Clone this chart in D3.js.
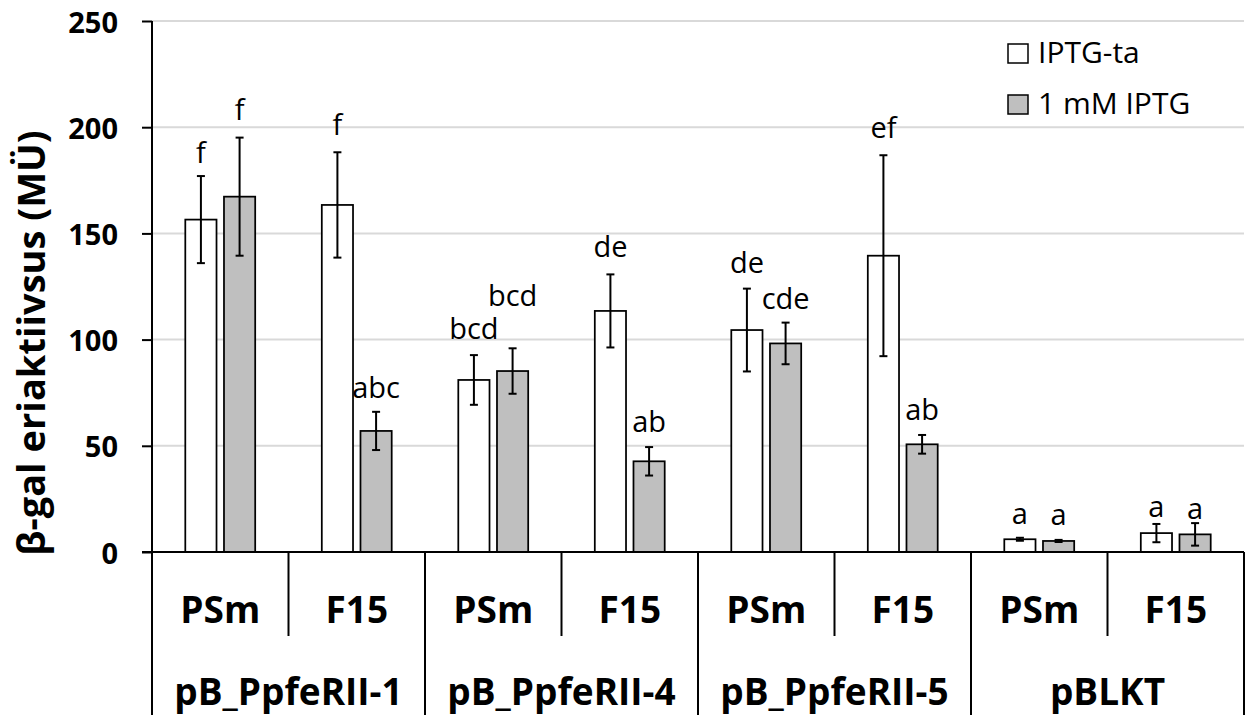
<!DOCTYPE html>
<html>
<head>
<meta charset="utf-8">
<script src="https://cdn.jsdelivr.net/npm/d3@7"></script>
<style>
  html, body { margin: 0; padding: 0; background: #fff; }
  svg { display: block; font-family: "Open Sans", "DejaVu Sans", sans-serif; }
</style>
</head>
<body>
<svg id="chart" width="1246" height="715"></svg>
<script>
// Constructs (outer group) and promoters (inner category)
const groups = ["pB_PpfeRII-1", "pB_PpfeRII-4", "pB_PpfeRII-5", "pBLKT"];
const promoters = ["PSm", "F15"];
const seriesNames = ["IPTG-ta", "1 mM IPTG"];

// β-gal activity (Miller units), one value per group × promoter
const noIptg = [156.5, 163.4, 81.0, 113.5, 104.5, 139.5, 6.0, 8.9];
const noIptgErr = [20.5, 24.8, 11.7, 17.2, 19.5, 47.3, 0.7, 4.3];
const withIptg = [167.3, 57.0, 85.2, 42.7, 98.2, 50.7, 5.2, 8.3];
const withIptgErr = [27.8, 9.0, 10.7, 6.7, 9.8, 4.4, 0.5, 5.3];

// Significance letters
const noIptgLetters = ["f", "f", "bcd", "de", "de", "ef", "a", "a"];
const withIptgLetters = ["f", "abc", "bcd", "ab", "cde", "ab", "a", "a"];

const yTicks = [0, 50, 100, 150, 200, 250];

// ---- layout ----
const svg = d3.select("#chart");
const plotLeft = 152, plotRight = 1244, plotTop = 21, plotBase = 552, plotBottom = 715;

const y = d3.scaleLinear().domain([0, 250]).range([plotBase, plotTop]);

const cats = [];
groups.forEach(g => promoters.forEach(p => cats.push(g + "|" + p)));
const x = d3.scaleBand().domain(cats).range([plotLeft, plotRight]).padding(0);
const xg = d3.scaleBand().domain(groups).range([plotLeft, plotRight]).padding(0);
const inner = d3.scaleBand().domain([0, 1])
  .range([33.3, x.bandwidth() - 33.3]).paddingInner(0.193).paddingOuter(0);

const fills = ["#ffffff", "#bfbfbf"];

// gridlines
svg.append("g").selectAll("line").data(yTicks.filter(d => d > 0)).join("line")
  .attr("x1", plotLeft).attr("x2", plotRight)
  .attr("y1", d => y(d)).attr("y2", d => y(d))
  .attr("stroke", "#d9d9d9").attr("stroke-width", 2);

// y axis
const yAxis = d3.axisLeft(y).tickValues(yTicks).tickSize(10).tickPadding(24);
const yg = svg.append("g").attr("transform", `translate(${plotLeft},0)`).call(yAxis);
yg.select(".domain").remove();
yg.selectAll(".tick line").attr("stroke", "#000").attr("stroke-width", 2);
yg.selectAll(".tick text")
  .attr("font-family", "Open Sans").attr("font-weight", 700)
  .attr("font-size", 29).attr("fill", "#000").attr("dy", "0.38em");

// y axis title
svg.append("text")
  .attr("transform", "translate(45,343) rotate(-90)")
  .attr("text-anchor", "middle")
  .attr("font-weight", 700).attr("font-size", 38).attr("fill", "#000")
  .text("β-gal eriaktiivsus (MÜ)");

// bars
const series = [
  { vals: noIptg, err: noIptgErr, letters: noIptgLetters },
  { vals: withIptg, err: withIptgErr, letters: withIptgLetters }
];
// letter lift above the error bar cap (px)
const labelLift = [
  [13, 17, 16, 17, 16, 17, 14, 7],
  [18, 14, 42, 15, 14, 15, 15, 4]
];

series.forEach((s, si) => {
  const g = svg.append("g");
  const data = cats.map((c, i) => ({ c, i, v: s.vals[i], e: s.err[i], l: s.letters[i] }));
  const bx = d => x(d.c) + inner(si);
  const cx = d => bx(d) + inner.bandwidth() / 2;

  g.selectAll("rect").data(data).join("rect")
    .attr("x", bx).attr("width", inner.bandwidth())
    .attr("y", d => y(d.v)).attr("height", d => y(0) - y(d.v))
    .attr("fill", fills[si]).attr("stroke", "#000").attr("stroke-width", 1.75);

  const eb = g.selectAll("g.err").data(data).join("g").attr("class", "err");
  eb.append("line")
    .attr("x1", cx).attr("x2", cx)
    .attr("y1", d => y(d.v + d.e)).attr("y2", d => y(d.v - d.e))
    .attr("stroke", "#000").attr("stroke-width", 2);
  [1, -1].forEach(sign => {
    eb.append("line")
      .attr("x1", d => cx(d) - 4).attr("x2", d => cx(d) + 4)
      .attr("y1", d => y(d.v + sign * d.e)).attr("y2", d => y(d.v + sign * d.e))
      .attr("stroke", "#000").attr("stroke-width", 2);
  });

  g.selectAll("text").data(data).join("text")
    .attr("x", cx)
    .attr("y", d => y(d.v + d.e) - labelLift[si][d.i])
    .attr("text-anchor", "middle")
    .attr("font-size", 29).attr("fill", "#000")
    .text(d => d.l);
});

// baseline / category axis
svg.append("line").attr("x1", plotLeft - 10).attr("x2", plotRight)
  .attr("y1", plotBase).attr("y2", plotBase).attr("stroke", "#000").attr("stroke-width", 2);
// value axis line
svg.append("line").attr("x1", plotLeft).attr("x2", plotLeft)
  .attr("y1", plotTop).attr("y2", plotBottom).attr("stroke", "#000").attr("stroke-width", 2);

// promoter dividers (short) and group dividers (full height)
cats.forEach((c, i) => {
  if (i === 0) return;
  const isGroupEdge = i % promoters.length === 0;
  svg.append("line")
    .attr("x1", x(c)).attr("x2", x(c))
    .attr("y1", plotBase).attr("y2", isGroupEdge ? plotBottom : 636)
    .attr("stroke", "#000").attr("stroke-width", 2);
});
svg.append("line").attr("x1", plotRight).attr("x2", plotRight)
  .attr("y1", plotBase).attr("y2", plotBottom).attr("stroke", "#000").attr("stroke-width", 2);

// promoter labels
svg.append("g").selectAll("text").data(cats).join("text")
  .attr("x", d => x(d) + x.bandwidth() / 2).attr("y", 623)
  .attr("text-anchor", "middle")
  .attr("font-weight", 700).attr("font-size", 37).attr("fill", "#000")
  .text(d => d.split("|")[1]);

// group labels
svg.append("g").selectAll("text").data(groups).join("text")
  .attr("x", d => xg(d) + xg.bandwidth() / 2).attr("y", 705)
  .attr("text-anchor", "middle")
  .attr("font-weight", 700).attr("font-size", 37).attr("fill", "#000")
  .text(d => d);

// legend
const lg = svg.append("g").attr("transform", "translate(1008,44)");
seriesNames.forEach((n, i) => {
  lg.append("rect").attr("x", 0).attr("y", i * 51).attr("width", 20).attr("height", 19)
    .attr("fill", fills[i]).attr("stroke", "#000").attr("stroke-width", 1.5);
  lg.append("text").attr("x", 30).attr("y", i * 51 + 19)
    .attr("font-size", 30).attr("fill", "#000").text(n);
});
</script>
</body>
</html>
